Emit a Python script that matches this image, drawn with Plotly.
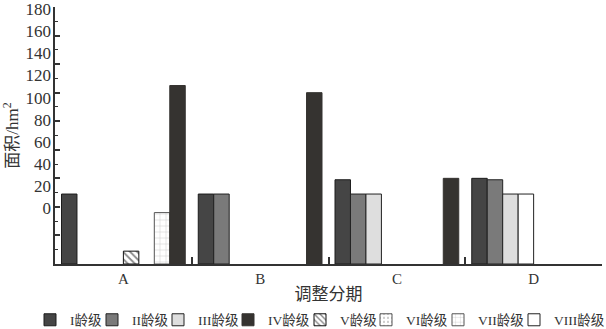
import plotly.graph_objects as go

# Adjustment periods and area (hm²) per age class
periods = ["A", "B", "C", "D"]
age_classes = ["I龄级", "II龄级", "III龄级", "IV龄级", "V龄级", "VI龄级", "VII龄级", "VIII龄级"]
area_I = [49, 49, 59, 60]
area_II = [None, 49, 49, 59]
area_III = [None, None, 49, 49]
area_IV = [125, 120, 60, None]
area_V = [9, None, None, None]
area_VI = [None, None, None, None]
area_VII = [36, None, None, None]
area_VIII = [None, None, None, 49]
y_tick_labels = [0, 20, 40, 60, 80, 100, 120, 140, 160, 180]

values = {
    "I龄级": area_I, "II龄级": area_II, "III龄级": area_III, "IV龄级": area_IV,
    "V龄级": area_V, "VI龄级": area_VI, "VII龄级": area_VII, "VIII龄级": area_VIII,
}

# Slot order of the bars inside each period group
slot_order = ["I龄级", "II龄级", "III龄级", "VIII龄级", "V龄级", "VI龄级", "VII龄级", "IV龄级"]

styles = {
    "I龄级": dict(color="#454545", line=dict(color="#1c1c1c", width=1)),
    "II龄级": dict(color="#7a7a7a", line=dict(color="#222222", width=1)),
    "III龄级": dict(color="#dedede", line=dict(color="#222222", width=1)),
    "IV龄级": dict(color="#353330", line=dict(color="#353330", width=1)),
    "V龄级": dict(color="white", line=dict(color="#111111", width=1),
                 pattern=dict(shape="\\", fgcolor="#111111", size=5, solidity=0.35)),
    "VI龄级": dict(color="white", line=dict(color="#555555", width=1),
                  pattern=dict(shape=".", fgcolor="#333333", size=5, solidity=0.15)),
    "VII龄级": dict(color="white", line=dict(color="#555555", width=1),
                   pattern=dict(shape="+", fgcolor="#777777", size=6, solidity=0.12)),
    "VIII龄级": dict(color="white", line=dict(color="#222222", width=1)),
}

FONT = "Liberation Serif, Noto Sans CJK SC, serif"
W, H = 606, 329
ML, MR, MT, MB = 55, 4, 7, 65
plot_w = W - ML - MR
plot_h = H - MT - MB

# Left edge (px) of each legend swatch along one row
legend_px = {
    "I龄级": 44, "II龄级": 106, "III龄级": 172, "IV龄级": 242,
    "V龄级": 314, "VI龄级": 380, "VII龄级": 452, "VIII龄级": 528,
}

fig = go.Figure()
for name in slot_order:
    idx = age_classes.index(name)
    legend_id = "legend" if idx == 0 else f"legend{idx + 1}"
    fig.add_trace(go.Bar(
        x=periods, y=values[name], name=name, marker=styles[name],
        legend=legend_id, yaxis="y", showlegend=True,
    ))

# Carrier trace for the labelled axis
fig.add_trace(go.Scatter(x=[], y=[], yaxis="y2", showlegend=False, hoverinfo="skip"))

layout_legends = {}
for i, name in enumerate(age_classes):
    key = "legend" if i == 0 else f"legend{i + 1}"
    layout_legends[key] = dict(
        x=(legend_px[name] - 14 - ML) / plot_w,
        y=(MT + plot_h - 320) / plot_h,
        xanchor="left", yanchor="middle", orientation="h",
        font=dict(family=FONT, size=13.5, color="#333333"),
        bgcolor="rgba(0,0,0,0)", borderwidth=0, visible=True,
    )

fig.update_layout(
    width=W, height=H, showlegend=True,
    margin=dict(l=ML, r=MR, t=MT, b=MB, autoexpand=False),
    paper_bgcolor="white", plot_bgcolor="white",
    barmode="group", bargap=0.095, bargroupgap=0,
    font=dict(family=FONT, color="#333333"),
    xaxis=dict(
        type="category", showline=True, linecolor="#333333", linewidth=1.5,
        ticks="inside", tickson="boundaries", ticklen=7, tickcolor="#333333",
        tickwidth=1.5, showgrid=False, zeroline=False,
        tickfont=dict(family=FONT, size=15, color="#333333"),
        title=dict(text="调整分期", font=dict(family=FONT, size=17, color="#333333"),
                   standoff=2),
    ),
    yaxis=dict(
        range=[0, 180], showline=True, linecolor="#333333", linewidth=1.5,
        ticks="inside", ticklen=5, tickwidth=1.5, tickcolor="#333333",
        dtick=20, tick0=0, showticklabels=False, showgrid=False, zeroline=False,
        minor=dict(ticks="inside", ticklen=3, dtick=10, tickcolor="#333333",
                   tickwidth=1.2, showgrid=False),
    ),
    yaxis2=dict(
        overlaying="y", side="left", range=[-50.6, 182],
        tickvals=y_tick_labels, ticks="", showline=False, showgrid=False,
        zeroline=False, tickfont=dict(family=FONT, size=17, color="#333333"),
        ticklabeloverflow="allow", ticklabelstandoff=3,
        title=dict(text="面积/hm<sup>2</sup>",
                   font=dict(family=FONT, size=17, color="#333333"), standoff=2),
    ),
    **layout_legends,
)

fig.write_html("out.html")
